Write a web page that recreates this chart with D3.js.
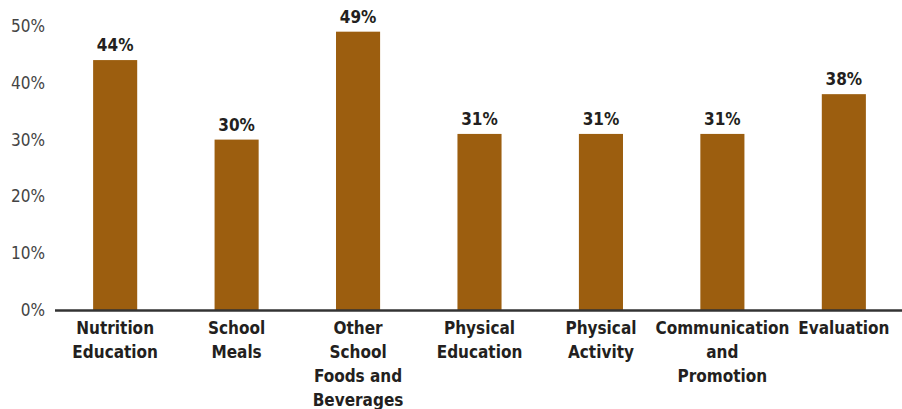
<!DOCTYPE html>
<html><head><meta charset="utf-8">
<script src="https://cdn.jsdelivr.net/npm/d3@7"></script>
<style>
body{margin:0;background:#fff;}
svg{display:block;}
</style></head>
<body><svg id="c" width="902" height="409"></svg>
<script>
const categories = [
  ["Nutrition","Education"],
  ["School","Meals"],
  ["Other","School","Foods and","Beverages"],
  ["Physical","Education"],
  ["Physical","Activity"],
  ["Communication","and","Promotion"],
  ["Evaluation"]
];
const values = [44, 30, 49, 31, 31, 31, 38];
const yTicks = [0, 10, 20, 30, 40, 50];

const svg = d3.select("#c");
const font = "'Liberation Sans Narrow','Arial Narrow','DejaVu Sans Condensed',sans-serif";
const x = d3.scaleBand().domain(d3.range(values.length)).range([54.5, 904.5]).paddingInner(0.637).paddingOuter(0.318);
const y = d3.scaleLinear().domain([0, 50]).range([310, 26]);

svg.selectAll("rect.bar").data(values).join("rect")
  .attr("class","bar")
  .attr("x",(d,i)=>x(i)).attr("width",x.bandwidth())
  .attr("y",d=>y(d)).attr("height",d=>y(0)-y(d))
  .attr("fill","#9c5e0f");

svg.selectAll("text.val").data(values).join("text")
  .attr("class","val")
  .attr("x",(d,i)=>x(i)+x.bandwidth()/2).attr("y",d=>y(d)-9)
  .attr("text-anchor","middle")
  .attr("font-family",font).attr("font-weight","bold").attr("font-size",17)
  .attr("fill","#231f20")
  .text(d=>d+"%");

const yAxis = svg.append("g").attr("transform","translate(55,0)")
  .call(d3.axisLeft(y).tickValues(yTicks).tickSize(0).tickPadding(10).tickFormat(d=>d+"%"));
yAxis.select(".domain").remove();
yAxis.selectAll("text").attr("font-family",font).attr("font-size",17).attr("fill","#444");

svg.append("line").attr("x1",55).attr("x2",902).attr("y1",y(0)+0.5).attr("y2",y(0)+0.5)
  .attr("stroke","#333").attr("stroke-width",2.5);

const lab = svg.selectAll("text.cat").data(categories).join("text")
  .attr("class","cat")
  .attr("text-anchor","middle")
  .attr("font-family",font).attr("font-weight","bold").attr("font-size",17)
  .attr("fill","#231f20");
lab.each(function(lines,i){
  const t = d3.select(this);
  lines.forEach((s,j)=>{
    t.append("tspan").attr("x",x(i)+x.bandwidth()/2).attr("y",334+j*24).text(s);
  });
});
</script></body></html>
